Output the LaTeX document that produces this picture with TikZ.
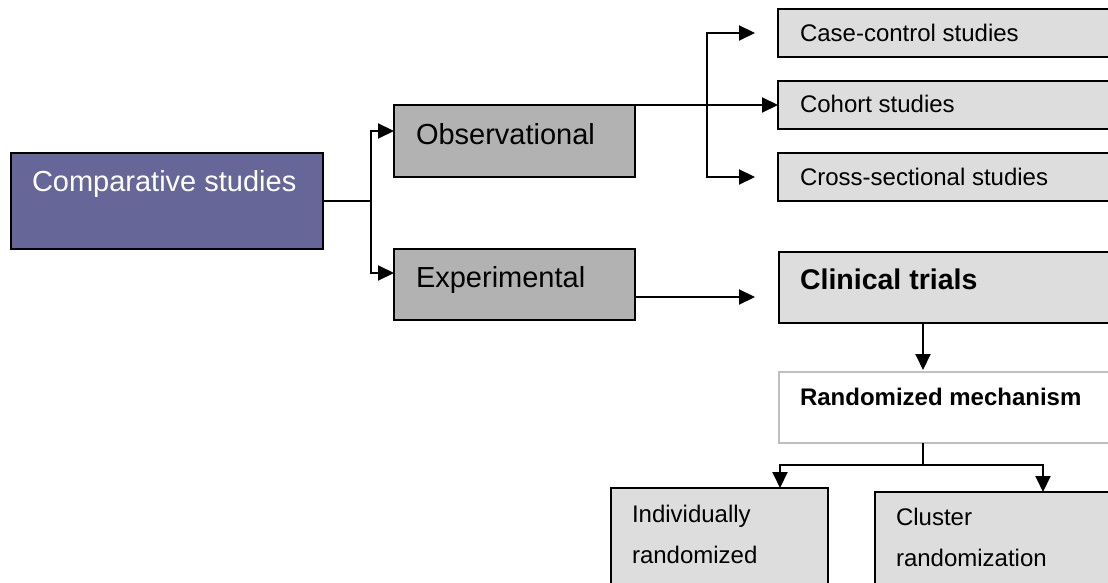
\documentclass[tikz,border=0pt]{standalone}
\usepackage{fontspec}
\setmainfont{Liberation Sans}
\usetikzlibrary{arrows.meta,calc}
\definecolor{purplebox}{HTML}{666699}
\definecolor{midgray}{HTML}{B2B2B2}
\definecolor{lightgray}{HTML}{DDDDDD}
\definecolor{bordergray}{HTML}{BFBFBF}
\tikzset{
  box/.style={draw=black, line width=2pt, inner sep=0pt, outer sep=0pt},
  txt/.style={anchor=base west, inner sep=0pt, outer sep=0pt},
  big/.style={font=\fontsize{29}{34}\selectfont},
  small/.style={font=\fontsize{24}{28}\selectfont},
  conn/.style={line width=2pt},
  arr/.style={line width=2pt, -{Triangle[length=16pt,width=15pt]}},
}
\begin{document}
\begin{tikzpicture}[x=1pt,y=-1pt]
\useasboundingbox (0,0) rectangle (1108,583);
\clip (0,0) rectangle (1108,583);
% boxes
\node[box, fill=purplebox, minimum width=312pt, minimum height=96pt, anchor=north west] (comp) at (11,153) {};
\node[box, fill=midgray, minimum width=241pt, minimum height=72pt, anchor=north west] (obs) at (394,105) {};
\node[box, fill=midgray, minimum width=241pt, minimum height=71pt, anchor=north west] (exp) at (394,249) {};
\node[box, fill=lightgray, minimum width=342pt, minimum height=48pt, anchor=north west] (cc) at (778,9) {};
\node[box, fill=lightgray, minimum width=342pt, minimum height=48pt, anchor=north west] (coh) at (778,81) {};
\node[box, fill=lightgray, minimum width=342pt, minimum height=48pt, anchor=north west] (cs) at (778,153) {};
\node[box, fill=lightgray, minimum width=341pt, minimum height=71pt, anchor=north west] (ct) at (779,252) {};
\node[box, draw=bordergray, fill=white, minimum width=341pt, minimum height=71pt, anchor=north west] (rm) at (779,372) {};
\node[box, fill=lightgray, minimum width=217pt, minimum height=112pt, anchor=north west] (ind) at (611,488) {};
\node[box, fill=lightgray, minimum width=245pt, minimum height=108pt, anchor=north west] (clu) at (875,492) {};
% texts
\node[txt, big, text=white] (tcomp) at (32,191) {Comparative studies};
\node[txt, big] (tobs) at (416,144) {Observational};
\node[txt, big] (texp) at (416,287) {Experimental};
\node[txt, small] (tcc) at (800,42) {Case-control studies};
\node[txt, small] (tcoh) at (800,113) {Cohort studies};
\node[txt, small] (tcs) at (800,185) {Cross-sectional studies};
\node[txt, font=\fontsize{28.5}{32}\selectfont\bfseries] (tct) at (800,289) {Clinical trials};
\node[txt, font=\fontsize{24}{28}\selectfont\bfseries] (trm) at (800,405) {Randomized mechanism};
\node[txt, small] (tind1) at (632,522) {Individually};
\node[txt, small] (tind2) at (632,563) {randomized};
\node[txt, small] (tclu1) at (896,525) {Cluster};
\node[txt, small] (tclu2) at (896,566) {randomization};
% connectors
\coordinate (j1) at (371,201);
\draw[conn] (comp.east) -- (j1);
\draw[arr] (j1) |- ([yshift=10pt]obs.west);
\draw[arr] (j1) |- ([yshift=11.5pt]exp.west);
\draw[arr] (obs.north east) -- (coh.west);
\coordinate (j2) at (707,105);
\draw[arr] (j2) |- ([xshift=-23pt]cc.west);
\draw[arr] (j2) |- ([xshift=-23pt]cs.west);
\coordinate (ctin) at ([xshift=-24pt,yshift=-9.5pt]ct.west);
\draw[arr] ([yshift=-12.5pt]exp.east) -- (ctin);
\coordinate (mx) at (923,0);
\draw[arr] (ct.south -| mx) -- ([yshift=2pt]rm.north -| mx);
\coordinate (j3) at (923,465);
\draw[conn] (rm.south -| mx) -- (j3);
\coordinate (indx) at (780,0);
\coordinate (clux) at (1043,0);
\draw[arr] (j3) -| (ind.north -| indx);
\draw[arr] (j3) -| (clu.north -| clux);
\end{tikzpicture}
\end{document}
